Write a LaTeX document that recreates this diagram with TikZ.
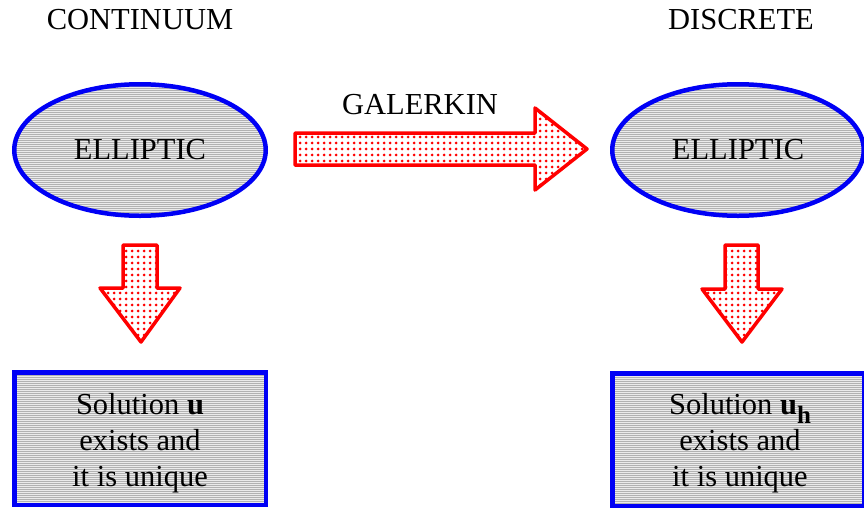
\documentclass[tikz,border=0pt]{standalone}
\usepackage{fontspec}
\setmainfont{Liberation Serif}
\usetikzlibrary{shapes.geometric,patterns.meta}

\definecolor{frameblue}{RGB}{0,0,245}
\definecolor{arrowred}{RGB}{255,0,0}

\tikzset{
  label text/.style={font=\fontsize{30.5}{36}\selectfont, inner sep=0pt},
  shaded/.style={preaction={fill=black!8},
                 pattern={Lines[angle=0,distance=2pt,line width=1pt]},
                 pattern color=black!30},
  blueframe/.style={draw=frameblue, line width=4.5pt, shaded, inner sep=0pt},
  problem/.style={blueframe, ellipse, minimum width=251.5pt, minimum height=131.5pt,
                  font=\fontsize{30.5}{36}\selectfont},
  result/.style={blueframe, rectangle, minimum width=251.5pt, minimum height=132.5pt},
  resulttext/.style={align=center, inner sep=0pt, font=\fontsize{30.5}{36}\selectfont},
  blockarrow/.style={draw=arrowred, line width=3.5pt, line join=round,
                     preaction={fill=white},
                     pattern={Dots[distance=6pt,radius=1.5pt]},
                     pattern color=arrowred}
}

\begin{document}
\begin{tikzpicture}[x=1pt,y=-1pt]
  \useasboundingbox (0,0) rectangle (864,509);

  % column headings
  \node[label text] (cont) at (140,20) {CONTINUUM};
  \node[label text] (disc) at (741,20) {DISCRETE};
  \node[label text] (gal)  at (420,105) {GALERKIN};

  % the two elliptic problems
  \node[problem] (ellC) at (140,150) {ELLIPTIC};
  \node[problem] (ellD) at (738,150) {ELLIPTIC};

  % existence and uniqueness boxes
  \node[result] (solC) at (140,438.5) {};
  \node[result] (solD) at (738,439.5) {};
  \node[resulttext] (txtC) at (140,443) {Solution \textbf{u}\\exists and\\it is unique};
  \node[resulttext] (txtD) at (740,443)
    {Solution \textbf{u}\raisebox{-0.3em}{\fontsize{25}{25}\selectfont\textbf{h}}\\exists and\\it is unique};

  % Galerkin block arrow
  \draw[blockarrow] (295,133) -- (535,133) -- (535,108) -- (587,149)
        -- (535,190) -- (535,165) -- (295,165) -- cycle;

  % downward block arrows
  \draw[blockarrow] (123,245) -- (157,245) -- (157,288) -- (180,288)
        -- (141,342) -- (100,288) -- (123,288) -- cycle;
  \draw[blockarrow] (725,245) -- (758,245) -- (758,289) -- (782,289)
        -- (742,342) -- (702,289) -- (725,289) -- cycle;
\end{tikzpicture}
\end{document}
